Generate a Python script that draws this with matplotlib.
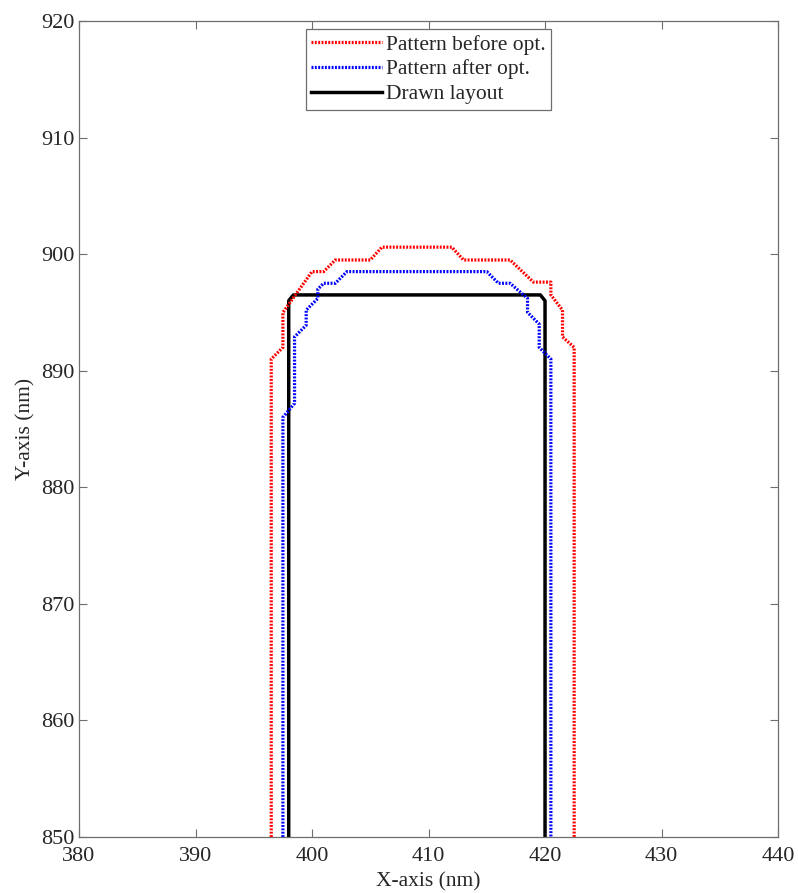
import numpy as np
import matplotlib
matplotlib.use('Agg')
import matplotlib.pyplot as plt

# contour before optimisation (red)
before_x = [396.5, 396.5, 397.5, 397.5, 400.0, 401.0, 402.0, 405.0, 406.0, 412.0, 413.0,
            417.0, 419.0, 420.5, 420.5, 421.5, 421.5, 422.5, 422.5]
before_y = [850.0, 891.0, 892.0, 895.0, 898.5, 898.5, 899.5, 899.5, 900.6, 900.6, 899.5,
            899.5, 897.6, 897.6, 896.5, 895.2, 892.9, 892.0, 850.0]

# contour after optimisation (blue)
after_x = [397.5, 397.5, 398.5, 398.5, 399.5, 399.5, 400.5, 400.5, 401.0, 402.0, 403.0,
           415.0, 416.0, 417.0, 418.5, 418.5, 419.5, 419.5, 420.5, 420.5]
after_y = [850.0, 886.0, 887.2, 892.9, 893.9, 895.2, 896.2, 897.0, 897.5, 897.5, 898.5,
           898.5, 897.5, 897.5, 896.2, 895.0, 894.0, 892.0, 891.0, 850.0]

# drawn layout (black)
layout_x = [398.0, 398.0, 398.4, 419.6, 420.0, 420.0]
layout_y = [850.0, 896.0, 896.5, 896.5, 896.0, 850.0]

plt.rcParams.update({
    'font.family': ['Liberation Serif', 'DejaVu Serif'],
    'font.size': 15.5,
    'text.color': '#262626',
    'axes.labelcolor': '#262626',
    'xtick.color': '#262626',
    'ytick.color': '#262626',
})

fig = plt.figure(figsize=(7.98, 8.93), dpi=100)
ax = fig.add_axes([0.099, 0.0627, 0.876, 0.9138])

l_layout, = ax.plot(layout_x, layout_y, color='black', lw=2.5, zorder=2,
                    solid_joinstyle='round', label='Drawn layout')
l_before, = ax.plot(before_x, before_y, color='#ff0000', lw=2.3, zorder=3,
                    dashes=(0.6, 0.45), label='Pattern before opt.')
l_after, = ax.plot(after_x, after_y, color='#0000ff', lw=2.3, zorder=3,
                   dashes=(0.6, 0.45), label='Pattern after opt.')

ax.set_xlim(380, 440)
ax.set_ylim(850, 920)
ax.set_xticks(np.arange(380, 441, 10))
ax.set_yticks(np.arange(850, 921, 10))
ax.set_xlabel('X-axis (nm)', labelpad=5)
ax.set_ylabel('Y-axis (nm)', labelpad=4)

ax.tick_params(direction='in', top=True, right=True, length=6, width=0.8,
               color='#6e6e6e', labelsize=16)
ax.tick_params(axis='x', pad=7)
for s in ax.spines.values():
    s.set_color('#6e6e6e')
    s.set_linewidth(0.9)

leg = ax.legend(handles=[l_before, l_after, l_layout], loc='upper center',
                bbox_to_anchor=(0.5, 0.99), fontsize=15.5, handlelength=3.3,
                handletextpad=0.2, labelspacing=0.22, borderpad=0.25,
                borderaxespad=0.0, fancybox=False, framealpha=1)
leg.get_frame().set_edgecolor('#6e6e6e')
leg.get_frame().set_linewidth(0.9)

fig.savefig('out.png', dpi=100)
